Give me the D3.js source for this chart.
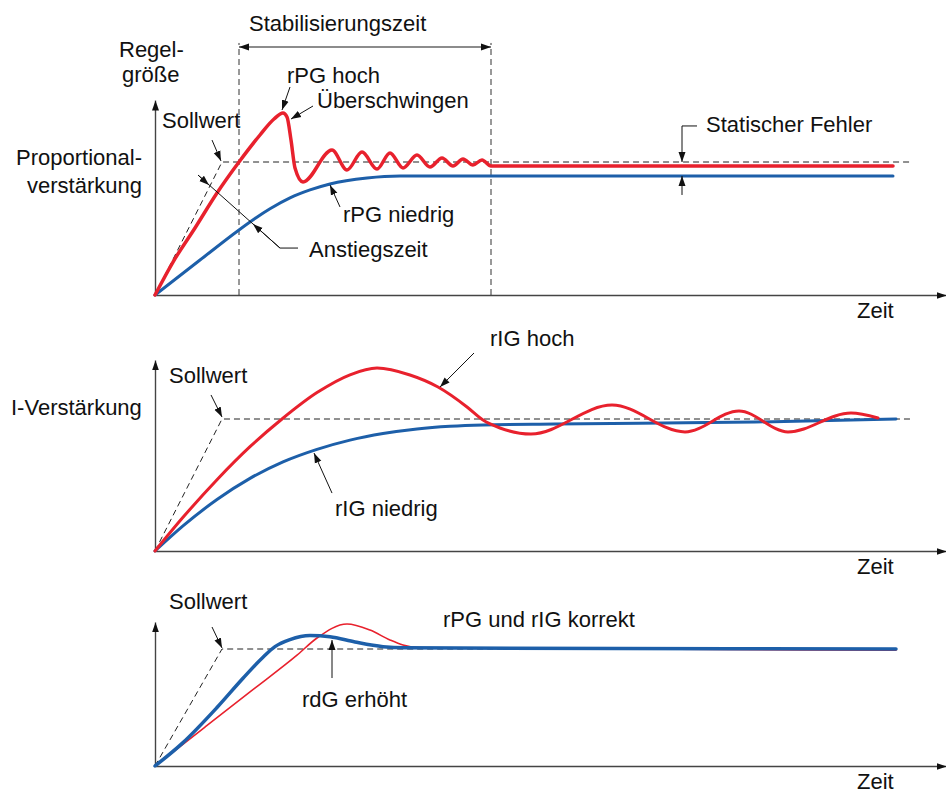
<!DOCTYPE html>
<html>
<head>
<meta charset="utf-8">
<script src="https://cdn.jsdelivr.net/npm/d3@7/dist/d3.min.js"></script>
<style>
  body { margin: 0; background: #fff; }
  text { font-family: "Liberation Sans", Arial, sans-serif; font-size: 22px; fill: #111; }
</style>
</head>
<body>
<div id="chart"></div>
<script>
// time in arbitrary units, value relative to setpoint (Sollwert = 1)
var setpoint = 1
var timeLabel = "Zeit"

// panel 1 : Proportionalverstaerkung
var pgHigh = [[0,0],[18,0.248],[40,0.504],[62,0.767],[84,1.0],[105,1.203],[119,1.323],[128,1.368],[132,1.338],
  [136,1.165],[140,0.955],[148,0.85],[177,1.09],[192,0.94],[207,1.075],[222,0.947],[235,1.068],[248,0.955],
  [262,1.053],[275,0.962],[287,1.03],[298,0.97],[308,1.023],[318,0.977],[327,1.015],[336,0.97],[738,0.97]]
var pgLow = [[0,0],[45,0.263],[84,0.489],[100,0.575],[115,0.648],[135,0.73],[155,0.79],[175,0.835],[212,0.88],[245,0.895],[738,0.895]]

// panel 2 : I-Verstaerkung
var igHigh = [[0,0],[28,0.255],[62,0.54],[95,0.79],[127,1.0],[162,1.2],[195,1.335],[222,1.386],[255,1.333],
  [283,1.242],[312,1.091],[328,0.992],[345,0.932],[376,0.886],[457,1.106],[530,0.902],[584,1.061],[633,0.902],[696,1.045],[723,1.008]]
var igLow = [[0,0],[28,0.19],[62,0.39],[95,0.55],[128,0.675],[162,0.77],[195,0.84],[228,0.89],[262,0.925],
  [295,0.945],[328,0.955],[400,0.962],[600,0.977],[741,1.0]]

// panel 3 : rdG erhoeht
var dgRef = [[0,0],[50,0.333],[95,0.633],[142,0.947],[162,1.094],[192,1.214],[215,1.162],[235,1.077],[248,1.034],[265,1.01],[741,0.99]]
var dgHigh = [[0,0],[28,0.2],[62,0.5],[88,0.75],[108,0.93],[120,1.02],[135,1.08],[155,1.115],[175,1.105],[200,1.06],[228,1.02],[250,1.01],[741,1.0]]

var red = "#e8212d", blue = "#1d5fa9"

var width = 946, height = 793

var svg = d3.select("#chart").append("svg")
  .attr("width", width).attr("height", height)

var defs = svg.append("defs")
defs.append("marker").attr("id", "head")
  .attr("viewBox", "0 0 10 10").attr("refX", 10).attr("refY", 5)
  .attr("markerWidth", 10).attr("markerHeight", 10).attr("markerUnits", "userSpaceOnUse")
  .attr("orient", "auto-start-reverse")
  .append("path").attr("d", "M0,1.5L10,5L0,8.5Z").attr("fill", "#111")

var x = d3.scaleLinear().domain([0, 791]).range([155, 946])

var panels = [
  { y0: 295, y1: 162, top: 1.466, sp: 755 },
  { y0: 551, y1: 419, top: 1.447, sp: 755 },
  { y0: 766, y1: 649, top: 1.231, sp: 741 }
]

panels.forEach(function(p) {
  p.y = d3.scaleLinear().domain([0, setpoint]).range([p.y0, p.y1])
  p.g = svg.append("g")
})

function line(p) {
  return d3.line().x(function(d) { return x(d[0]) }).y(function(d) { return p.y(d[1]) })
}

function drawAxes(p) {
  var ax = p.g.append("g").attr("transform", "translate(0," + p.y0 + ")")
    .call(d3.axisBottom(x).tickValues([]).tickSizeOuter(0))
  ax.select(".domain").attr("stroke", "#444").attr("stroke-width", 1.4).attr("marker-end", "url(#head)")
  var ay = p.g.append("g").attr("transform", "translate(" + x(0) + ",0)")
    .call(d3.axisLeft(p.y.copy().domain([0, p.top]).range([p.y0, p.y(p.top)])).tickValues([]).tickSizeOuter(0))
  ay.select(".domain").attr("stroke", "#444").attr("stroke-width", 1.4).attr("marker-end", "url(#head)")
  p.g.append("text").attr("x", x(702)).attr("y", p.y0 + 23).text(timeLabel)
}

function drawSetpoint(p) {
  p.g.append("path")
    .attr("d", line(p)([[0, 0], [67, setpoint], [p.sp, setpoint]]))
    .attr("fill", "none").attr("stroke", "#222").attr("stroke-width", 1).attr("stroke-dasharray", "6,4")
}

function drawCurve(p, data, color, w) {
  p.g.append("path")
    .datum(data)
    .attr("d", line(p).curve(d3.curveMonotoneX))
    .attr("fill", "none").attr("stroke", color).attr("stroke-width", w)
    .attr("stroke-linecap", "round")
}

function arrow(p, pts, head) {
  p.g.append("path").attr("d", line(p)(pts))
    .attr("fill", "none").attr("stroke", "#111").attr("stroke-width", 1)
    .attr("marker-end", head === false ? null : "url(#head)")
}

function label(p, t, v, s, anchor) {
  p.g.append("text").attr("x", x(t)).attr("y", p.y(v))
    .attr("text-anchor", anchor || "start").text(s)
}

// ---- panel 1
var p1 = panels[0]
drawAxes(p1)
// Stabilisierungszeit limits
p1.g.selectAll(".stab").data([84, 336]).enter().append("line")
  .attr("x1", function(d) { return x(d) }).attr("x2", function(d) { return x(d) })
  .attr("y1", p1.y(0)).attr("y2", p1.y(1.895))
  .attr("stroke", "#333").attr("stroke-width", 1).attr("stroke-dasharray", "6,4")
p1.g.append("path").attr("d", line(p1)([[84, 1.865], [336, 1.865]]))
  .attr("stroke", "#666").attr("stroke-width", 1.6)
  .attr("marker-start", "url(#head)").attr("marker-end", "url(#head)")
drawSetpoint(p1)
drawCurve(p1, pgLow, blue, 3)
drawCurve(p1, pgHigh, red, 3.5)

label(p1, 94, 1.985, "Stabilisierungszeit")
label(p1, -36, 1.789, "Regel-")
label(p1, -33, 1.602, "größe")
label(p1, -13, 0.977, "Proportional-", "end")
label(p1, -13, 0.767, "verstärkung", "end")
label(p1, 7, 1.256, "Sollwert")
label(p1, 132, 1.594, "rPG hoch")
label(p1, 162, 1.406, "Überschwingen")
label(p1, 188, 0.549, "rPG niedrig")
label(p1, 154, 0.286, "Anstiegszeit")
label(p1, 551, 1.226, "Statischer Fehler")

arrow(p1, [[57, 1.165], [66, 1.008]])
arrow(p1, [[135, 1.564], [127, 1.391]])
arrow(p1, [[158, 1.421], [136, 1.323]])
arrow(p1, [[185, 0.662], [175, 0.827]])
arrow(p1, [[143, 0.353], [125, 0.353], [43, 0.902]], false)
arrow(p1, [[43, 0.902], [54, 0.827]])
arrow(p1, [[125, 0.353], [98, 0.534]])
arrow(p1, [[542, 1.271], [527, 1.271], [527, 1.0]])
arrow(p1, [[527, 0.752], [527, 0.895]])

// ---- panel 2
var p2 = panels[1]
drawAxes(p2)
drawSetpoint(p2)
drawCurve(p2, igLow, blue, 3)
drawCurve(p2, igHigh, red, 3)
label(p2, 14, 1.273, "Sollwert")
label(p2, -144, 1.03, "I-Verstärkung")
label(p2, 335, 1.553, "rIG hoch")
label(p2, 180, 0.265, "rIG niedrig")
arrow(p2, [[56, 1.182], [67, 1.015]])
arrow(p2, [[319, 1.5], [285, 1.242]])
arrow(p2, [[177, 0.439], [159, 0.742]])

// ---- panel 3
var p3 = panels[2]
drawAxes(p3)
drawSetpoint(p3)
drawCurve(p3, dgRef, red, 1.6)
drawCurve(p3, dgHigh, blue, 3.5)
label(p3, 14, 1.342, "Sollwert")
label(p3, 288, 1.188, "rPG und rIG korrekt")
label(p3, 147, 0.504, "rdG erhöht")
arrow(p3, [[57, 1.188], [67, 1.009]])
arrow(p3, [[177, 0.752], [177, 1.077]])
</script>
</body>
</html>
